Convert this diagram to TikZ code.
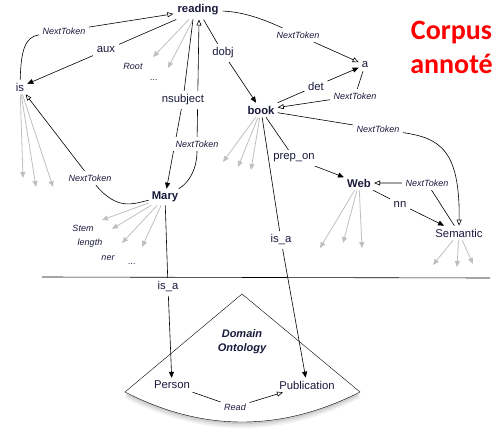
\documentclass[tikz,border=0pt]{standalone}
\usepackage{fontspec}
\setmainfont{Liberation Sans}
\newfontfamily\calibri{Carlito}
\usetikzlibrary{arrows.meta,shadows}
\pgfdeclarelayer{bg}
\pgfsetlayers{bg,main}
\definecolor{ink}{RGB}{25,25,60}

\begin{document}
\begin{tikzpicture}[x=1pt,y=-1pt]
      \useasboundingbox (0,0) rectangle (497,433);
      \tikzset{W/.style = {text=ink, inner sep=3pt, font=\fontsize{11.3}{13}\selectfont}}
      \tikzset{B/.style = {W, font=\fontsize{11.3}{13}\selectfont\bfseries}}
      \tikzset{L/.style = {W, fill=white, inner sep=3.5pt}}
      \tikzset{NT/.style = {L, font=\fontsize{9}{11}\selectfont\itshape}}
      \tikzset{R/.style = {text=ink, inner sep=1pt, font=\fontsize{9}{11}\selectfont\itshape}}
      \tikzset{E/.style = {draw, line width=0.6pt, -{Triangle[length=6pt,width=5pt]}}}
      \tikzset{N/.style = {draw, line width=0.6pt, -{Triangle[open,length=6pt,width=5pt]}}}
      \tikzset{G/.style = {draw=black!25, line width=0.8pt, -{Triangle[length=6pt,width=5pt]}}}
      % words
      \node[B,inner sep=4pt](reading) at (198,10) {reading};
      \node[W](is) at (20,87) {is};
      \node[W](a) at (365,65) {a};
      \node[B](book) at (261,110) {book};
      \node[B](Mary) at (165,197) {Mary};
      \node[B](Web) at (359,183) {Web};
      \node[W](Semantic) at (459,233) {Semantic};
      \node[W](Person) at (172,385) {Person};
      \node[W](Publication) at (307,385) {Publication};
      % edge labels
      \node[L](aux) at (106,50) {aux};
      \node[L](dobj) at (223,53) {dobj};
      \node[L](nsubj) at (183,100) {nsubject};
      \node[L](det) at (316,86) {det};
      \node[L](prep) at (294,158) {prep\_on};
      \node[L](nn) at (400,204) {nn};
      \node[L](isa1) at (168,287) {is\_a};
      \node[L](isa2) at (281,240) {is\_a};
      \node[NT](nt1) at (64,31) {NextToken};
      \node[NT](nt2) at (197,144) {NextToken};
      \node[NT](nt3) at (298,35) {NextToken};
      \node[NT](nt4) at (355,96) {NextToken};
      \node[NT](nt5) at (378,129) {NextToken};
      \node[NT](nt6) at (427,183) {NextToken};
      \node[NT](nt7) at (90,178) {NextToken};
      \node[NT](read) at (235,407) {Read};
      % features
      \node[R](root) at (133,66) {Root};
      \node[R](dots1) at (154,80) {...};
      \node[R](stem) at (83,228) {Stem};
      \node[R](length) at (90,243) {length};
      \node[R](ner) at (108,258) {ner};
      \node[R](dots2) at (132,264) {...};
      \coordinate (rg1) at (153,57);
      \coordinate (rg2) at (168,68);
      \coordinate (ig1) at (23,178);
      \coordinate (ig2) at (36,187);
      \coordinate (ig3) at (53,187);
      \coordinate (bg1) at (223,162);
      \coordinate (bg2) at (238,167);
      \coordinate (bg3) at (251,170);
      \coordinate (mg1) at (102,220);
      \coordinate (mg2) at (112,229);
      \coordinate (mg3) at (122,243);
      \coordinate (mg4) at (142,247);
      \coordinate (wg1) at (320,248);
      \coordinate (wg2) at (343,243);
      \coordinate (wg3) at (362,248);
      \coordinate (sg1) at (433,265);
      \coordinate (sg2) at (457,267);
      \coordinate (sg3) at (473,264);
      % ontology
      \node[text=ink,align=center,font=\fontsize{11}{14}\selectfont\bfseries\itshape](onto) at (242,342) {Domain\\Ontology};
      \node[text=red,align=center,font=\calibri\fontsize{28}{34}\selectfont\bfseries](corpus) at (451.5,47) {Corpus\\annoté};
      \begin{pgfonlayer}{bg}
      \draw[fill=white,
            drop shadow={shadow xshift=0pt,shadow yshift=-6pt,opacity=0.12},
            drop shadow={shadow xshift=0pt,shadow yshift=-4pt,opacity=0.15},
            drop shadow={shadow xshift=0pt,shadow yshift=-2pt,opacity=0.2}]
            (242,294) -- (125,392) .. controls (203,432) and (281,432) .. (360,392) -- cycle;
      \draw[G](reading) to (rg1);
      \draw[G](reading) to (rg2);
      \draw[G](is) to (ig1);
      \draw[G](is) to (ig2);
      \draw[G](is) to (ig3);
      \draw[G](book) to (bg1);
      \draw[G](book) to (bg2);
      \draw[G](book) to (bg3);
      \draw[G](Mary) to (mg1);
      \draw[G](Mary) to (mg2);
      \draw[G](Mary) to (mg3);
      \draw[G](Mary) to (mg4);
      \draw[G](Web) to (wg1);
      \draw[G](Web) to (wg2);
      \draw[G](Web) to (wg3);
      \draw[G](Semantic) to (sg1);
      \draw[G](Semantic) to (sg2);
      \draw[G](Semantic) to (sg3);
      \draw[E](reading) -- (aux) -- (is);
      \draw[E](reading) -- (dobj) -- (book);
      \draw[E]([xshift=-5pt]reading.south) -- (nsubj) -- (Mary);
      \draw[E](book) -- (det) -- (a);
      \draw[E](book) -- (prep) -- (Web);
      \draw[E](Web) -- (nn) -- (Semantic);
      \draw[E](Mary) -- (isa1) -- (Person);
      \draw[E](book) -- (isa2) -- (Publication);
      \draw[N](is) .. controls (21,50) and (25,37) .. (nt1) -- (reading);
      \draw[N](Mary) .. controls (190,182) and (197,168) .. (nt2) -- ([xshift=1pt]reading.south);
      \draw[N](reading) .. controls (245,12) and (265,20) .. (nt3) -- (a);
      \draw[N](a) -- (nt4) -- (book);
      \draw[N](book) -- (nt5) .. controls (440,138) and (460,150) .. (Semantic);
      \draw[N](Semantic) -- (nt6) -- (Web);
      \draw[N](Mary) .. controls (135,203) and (118,212) .. (nt7) -- (is);
      \draw[N](Person) -- (read) -- (Publication);
      \end{pgfonlayer}
      \draw[line width=0.6pt] (42,277) -- (490,278);
\end{tikzpicture}
\end{document}
